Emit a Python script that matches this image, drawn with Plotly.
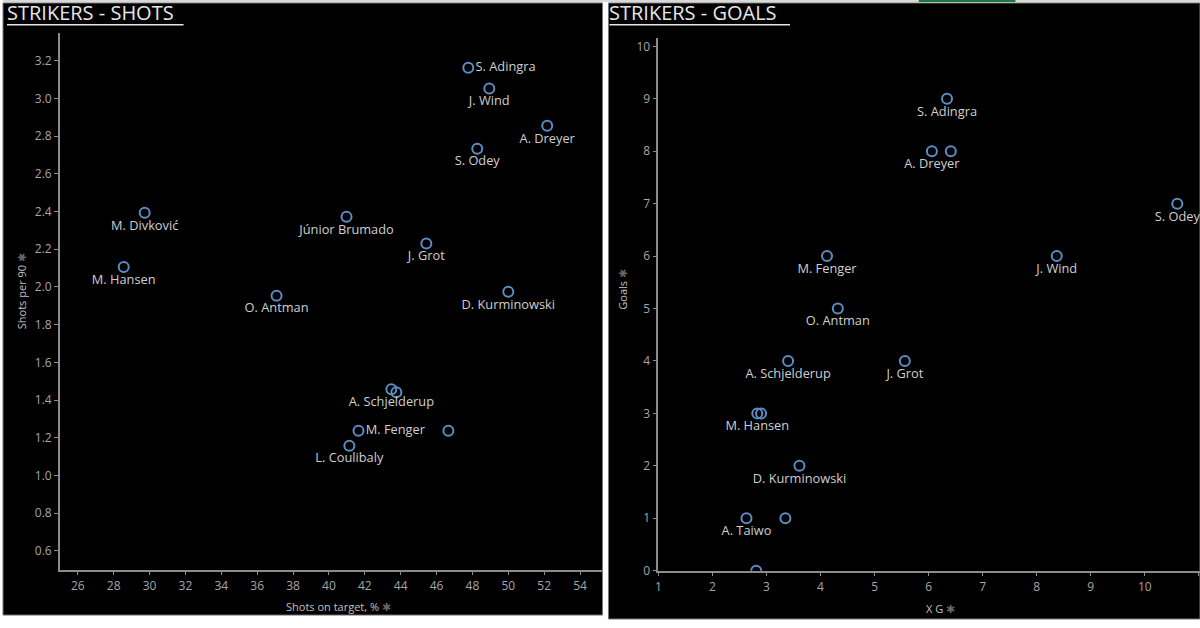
import plotly.graph_objects as go

# Strikers - shots (left panel)
shot_names = ["S. Adingra", "J. Wind", "A. Dreyer", "S. Odey", "Júnior Brumado", "J. Grot",
              "D. Kurminowski", "M. Divković", "M. Hansen", "O. Antman", "A. Schjelderup", "",
              "M. Fenger", "", "L. Coulibaly"]
shots_on_target = [47.77, 48.94, 52.17, 48.27, 40.98, 45.43, 50.0, 29.73, 28.56, 37.08,
                   43.48, 43.76, 41.65, 46.66, 41.14]
shots_per_90 = [3.163, 3.053, 2.855, 2.734, 2.373, 2.231, 1.975, 2.394, 2.106, 1.954,
                1.457, 1.441, 1.237, 1.237, 1.158]
shot_label_pos = ["middle right", "bottom center", "bottom center", "bottom center", "bottom center",
                  "bottom center", "bottom center", "bottom center", "bottom center", "bottom center",
                  "bottom center", "bottom center", "middle right", "bottom center", "bottom center"]

# Strikers - goals (right panel)
goal_names = ["S. Adingra", "A. Dreyer", "", "S. Odey", "M. Fenger", "J. Wind", "O. Antman",
              "A. Schjelderup", "J. Grot", "M. Hansen", "", "D. Kurminowski", "A. Taiwo", "", ""]
xg = [6.34, 6.06, 6.41, 10.6, 4.12, 8.37, 4.32, 3.40, 5.56, 2.83, 2.90, 3.61, 2.63, 3.35, 2.81]
goals = [9, 8, 8, 7, 6, 6, 5, 4, 4, 3, 3, 2, 1, 1, 0]

MARK = "#5b8cc4"
LABEL = "#cfcfcf"
TICK = "#a6a6a6"
AXIS = "#8c8c8c"
FONT = "Open Sans"

fig = go.Figure()

fig.add_trace(go.Scatter(
    x=shots_on_target, y=shots_per_90, text=shot_names, mode="markers+text",
    textposition=shot_label_pos, textfont=dict(color=LABEL, size=12.8, family=FONT),
    marker=dict(symbol="circle-open", size=10, color=MARK, line=dict(width=2, color=MARK)),
    xaxis="x", yaxis="y", showlegend=False, hoverinfo="skip"))

fig.add_trace(go.Scatter(
    x=xg, y=goals, text=goal_names, mode="markers+text",
    textposition="bottom center", textfont=dict(color=LABEL, size=12.8, family=FONT),
    marker=dict(symbol="circle-open", size=10, color=MARK, line=dict(width=2, color=MARK)),
    xaxis="x2", yaxis="y2", showlegend=False, hoverinfo="skip"))

ax = dict(showgrid=False, zeroline=False, showline=True, linecolor=AXIS, linewidth=1.5,
          ticks="outside", ticklen=4, tickcolor=AXIS, tickwidth=1,
          tickfont=dict(color=TICK, size=12, family=FONT), fixedrange=True)

fig.update_layout(
    width=1200, height=628,
    margin=dict(l=0, r=0, t=0, b=0),
    paper_bgcolor="white", plot_bgcolor="black",
    font=dict(family=FONT),
    xaxis=dict(ax, domain=[0.0475, 0.5008], range=[25, 55.25], dtick=2, tick0=26, anchor="y"),
    yaxis=dict(ax, domain=[0.0812, 0.9475], range=[0.5, 3.35], dtick=0.2, tick0=0.6,
               tickformat=".1f", anchor="x"),
    xaxis2=dict(ax, domain=[0.5475, 1.0], range=[1, 11.02], dtick=1, tick0=1, anchor="y2"),
    yaxis2=dict(ax, domain=[0.0796, 0.9395], range=[0, 10.17], dtick=1, tick0=0, anchor="x2"),
    shapes=[
        dict(type="rect", xref="paper", yref="paper", x0=0, x1=601 / 1200, y0=1 - 623 / 628,
             y1=1 - 3 / 628, fillcolor="black", line=dict(color="#777", width=1), layer="below"),
        dict(type="rect", xref="paper", yref="paper", x0=607 / 1200, x1=1, y0=1 - 627 / 628,
             y1=1 - 3 / 628, fillcolor="black", line=dict(color="#777", width=1), layer="below"),
        dict(type="rect", xref="paper", yref="paper", x0=0, x1=1, y0=1 - 2 / 628, y1=1,
             fillcolor="#d9d9d9", line=dict(width=0)),
        dict(type="rect", xref="paper", yref="paper", x0=918 / 1200, x1=1015 / 1200,
             y0=1 - 2 / 628, y1=1, fillcolor="#1e7a3c", line=dict(width=0)),
        dict(type="line", xref="paper", yref="paper", x0=4 / 1200, x1=181 / 1200,
             y0=1 - 25 / 628, y1=1 - 25 / 628, line=dict(color="#e6e6e6", width=1.5)),
        dict(type="line", xref="paper", yref="paper", x0=608 / 1200, x1=789 / 1200,
             y0=1 - 25 / 628, y1=1 - 25 / 628, line=dict(color="#e6e6e6", width=1.5)),
    ],
    annotations=[
        dict(text="STRIKERS - SHOTS", xref="paper", yref="paper", x=2 / 1200, y=1 + 3 / 628,
             xanchor="left", yanchor="top", showarrow=False,
             font=dict(color="#e6e6e6", size=20, family=FONT)),
        dict(text="STRIKERS - GOALS", xref="paper", yref="paper", x=606 / 1200, y=1 + 3 / 628,
             xanchor="left", yanchor="top", showarrow=False,
             font=dict(color="#e6e6e6", size=20, family=FONT)),
        dict(text="Shots per 90 <span style='color:#666'>✱</span>", xref="paper", yref="paper",
             x=18 / 1200, y=1 - 295 / 628, textangle=-90, showarrow=False,
             xanchor="center", yanchor="middle",
             font=dict(color="#c0c0c0", size=11, family=FONT)),
        dict(text="Shots on target, % <span style='color:#666'>✱</span>", xref="paper", yref="paper",
             x=336 / 1200, y=1 - 614 / 628, showarrow=False, xanchor="center", yanchor="middle",
             font=dict(color="#c0c0c0", size=11, family=FONT)),
        dict(text="Goals <span style='color:#666'>✱</span>", xref="paper", yref="paper",
             x=621 / 1200, y=1 - 293 / 628, textangle=-90, showarrow=False,
             xanchor="center", yanchor="middle",
             font=dict(color="#c0c0c0", size=11, family=FONT)),
        dict(text="X G <span style='color:#666'>✱</span>", xref="paper", yref="paper",
             x=940 / 1200, y=1 - 616 / 628, showarrow=False, xanchor="center", yanchor="middle",
             font=dict(color="#c0c0c0", size=11, family=FONT)),
    ],
)

fig.write_html("out.html", config={"displayModeBar": False},
               post_script="document.body.style.margin='0';document.body.style.overflow='hidden';")
